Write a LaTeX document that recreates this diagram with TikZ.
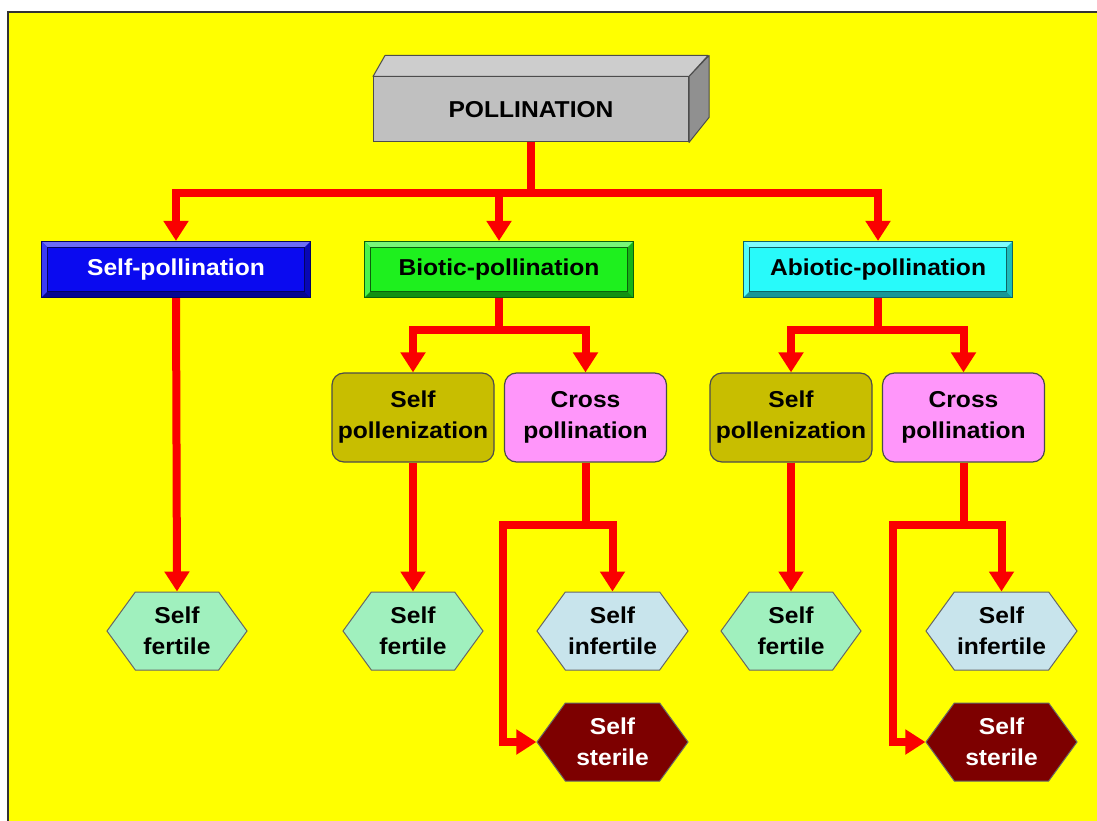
\documentclass[tikz,border=0pt]{standalone}
\usepackage{fontspec}
\setmainfont{Liberation Sans}[FakeStretch=1.07]
\usepackage{tikz}
\usetikzlibrary{arrows.meta,shapes.symbols}

\definecolor{bgyellow}{RGB}{255,255,0}
\definecolor{linkred}{RGB}{250,0,0}
\definecolor{boxgray}{RGB}{192,192,192}
\definecolor{selfblue}{RGB}{10,10,240}
\definecolor{bioticgreen}{RGB}{30,240,30}
\definecolor{abioticcyan}{RGB}{40,250,250}
\definecolor{selfolive}{RGB}{200,190,0}
\definecolor{crosspink}{RGB}{255,150,250}
\definecolor{fertilemint}{RGB}{160,240,190}
\definecolor{infertileblue}{RGB}{200,228,236}
\definecolor{sterilered}{RGB}{125,0,0}

\begin{document}
\begin{tikzpicture}[x=1pt, y=-1pt,
    link/.style={draw=linkred, line width=8pt},
    arr/.style={link, -{Triangle[length=20pt,width=24pt]}},
    bevel/.style={path picture={
        \fill[#1!60!white] (path picture bounding box.north west) -- (path picture bounding box.north east)
          -- ([shift={(-6pt,-6pt)}]path picture bounding box.north east) -- ([shift={(6pt,-6pt)}]path picture bounding box.north west) -- cycle;
        \fill[#1!80!white] (path picture bounding box.north west) -- ([shift={(6pt,-6pt)}]path picture bounding box.north west)
          -- ([shift={(6pt,6pt)}]path picture bounding box.south west) -- (path picture bounding box.south west) -- cycle;
        \fill[#1!60!black] (path picture bounding box.south west) -- (path picture bounding box.south east)
          -- ([shift={(-6pt,6pt)}]path picture bounding box.south east) -- ([shift={(6pt,6pt)}]path picture bounding box.south west) -- cycle;
        \fill[#1!75!black] (path picture bounding box.south east) -- (path picture bounding box.north east)
          -- ([shift={(-6pt,-6pt)}]path picture bounding box.north east) -- ([shift={(-6pt,6pt)}]path picture bounding box.south east) -- cycle;
        \draw[#1!40!black, line width=0.8pt] ([shift={(6pt,6pt)}]path picture bounding box.south west) rectangle ([shift={(-6pt,-6pt)}]path picture bounding box.north east);
      }},
    kind/.style={draw=#1!40!black, fill=#1, line width=1.2pt, minimum width=269pt, minimum height=56pt,
      inner sep=0pt, font=\fontsize{23}{28}\selectfont\bfseries, bevel=#1},
    method/.style={rounded corners=12pt, draw=black!70, line width=1.2pt, fill=#1, minimum width=162pt,
      minimum height=89pt, inner sep=0pt, align=center, font=\fontsize{23}{31}\selectfont\bfseries},
    result/.style={signal, signal to=east and west, signal pointer angle=108, draw=black!60, line width=1pt,
      fill=#1, minimum width=140pt, minimum height=78pt, inner sep=0pt, align=center,
      font=\fontsize{23}{31}\selectfont\bfseries}]

  \useasboundingbox (0,0) rectangle (1097,821);

  % Background
  \fill[white] (0,0) rectangle (1097,821);
  \fill[bgyellow] (8,12) rectangle (1097,821);
  \draw[black!80, line width=1.5pt] (8,821) -- (8,12) -- (1097,12);

  % Top box
  \node[fill=boxgray, draw=black!70, line width=1pt, minimum width=315pt, minimum height=65pt,
    font=\fontsize{23}{28}\selectfont\bfseries] (poll) at (531,109.5) {POLLINATION};
  \filldraw[fill=boxgray!80!white, draw=black!70, line width=1pt, line join=round]
    (poll.north west) -- ++(12,-21) -- ++(323,0) -- (poll.north east) -- cycle;
  \filldraw[fill=boxgray!75!black, draw=black!70, line width=1pt, line join=round]
    (poll.north east) -- ++(20,-21) -- ++(0,62) -- (poll.south east) -- cycle;

  % Kinds
  \node[kind=selfblue, text=white] (selfpol) at (176,269.5) {Self-pollination};
  \node[kind=bioticgreen] (biopol) at (499,269.5) {Biotic-pollination};
  \node[kind=abioticcyan] (abiopol) at (878,269.5) {Abiotic-pollination};

  % Methods
  \node[method=selfolive] (bioself) at (413,417.5) {Self\\pollenization};
  \node[method=crosspink] (biocross) at (585.5,417.5) {Cross\\pollination};
  \node[method=selfolive] (abioself) at (791,417.5) {Self\\pollenization};
  \node[method=crosspink] (abiocross) at (963.5,417.5) {Cross\\pollination};

  % Results
  \node[result=fertilemint] (selffert) at (177,631) {Self\\fertile};
  \node[result=fertilemint] (biofert) at (413,631) {Self\\fertile};
  \node[result=infertileblue, minimum width=151pt] (bioinfert) at (612.5,631) {Self\\infertile};
  \node[result=sterilered, text=white, minimum width=151pt] (bioster) at (612.5,742) {Self\\sterile};
  \node[result=fertilemint] (abiofert) at (791,631) {Self\\fertile};
  \node[result=infertileblue, minimum width=151pt] (abioinfert) at (1001.5,631) {Self\\infertile};
  \node[result=sterilered, text=white, minimum width=151pt] (abioster) at (1001.5,742) {Self\\sterile};

  % Connectors
  \coordinate (top) at (531,193);
  \draw[link] (poll.south) -- (top);
  \foreach \k in {selfpol,biopol,abiopol}
    \draw[arr] (top) -| (\k.north);

  \draw[arr] (selfpol.south) -- (selffert.north);

  \coordinate (biojoin) at (499,330);
  \draw[link] (biopol.south) -- (biojoin);
  \draw[arr] (biojoin) -| (bioself.north);
  \draw[arr] (biojoin) -| (biocross.north);
  \draw[arr] (bioself.south) -- (biofert.north);
  \coordinate (biocj) at (585.5,525);
  \coordinate (biock) at (503,525);
  \draw[link] (biocross.south) -- (biocj);
  \draw[arr] (biocj) -| (bioinfert.north);
  \draw[arr] (biocj) -- (biock) |- (bioster.west);

  \coordinate (abiojoin) at (878,330);
  \draw[link] (abiopol.south) -- (abiojoin);
  \draw[arr] (abiojoin) -| (abioself.north);
  \draw[arr] (abiojoin) -| (abiocross.north);
  \draw[arr] (abioself.south) -- (abiofert.north);
  \coordinate (abiocj) at (963.5,525);
  \coordinate (abiock) at (893,525);
  \draw[link] (abiocross.south) -- (abiocj);
  \draw[arr] (abiocj) -| (abioinfert.north);
  \draw[arr] (abiocj) -- (abiock) |- (abioster.west);
\end{tikzpicture}
\end{document}
